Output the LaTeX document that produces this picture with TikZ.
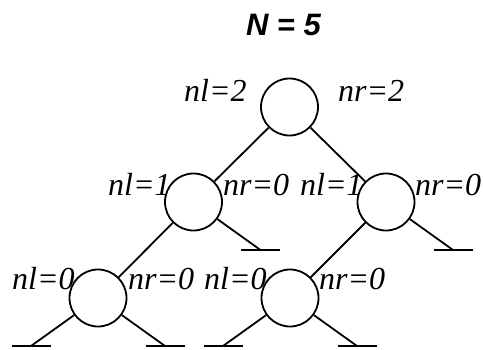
\documentclass[tikz,border=0pt]{standalone}
\usepackage{fontspec}
\setmainfont{Liberation Serif}
\newfontfamily\titlefont{Liberation Sans}
\newfontfamily\lblfont{Liberation Serif}
\begin{document}
\begin{tikzpicture}[x=1pt,y=-1pt,
  nd/.style={circle,draw,line width=1.8pt,minimum size=57pt,inner sep=0pt},
  lbl/.style={anchor=base west,inner sep=0pt,font=\lblfont\itshape\fontsize{32}{32}\selectfont},
  edge/.style={line width=1.8pt},
  bar/.style={line width=1.8pt}]
\useasboundingbox (0,0) rectangle (483,349);
\node[anchor=base,inner sep=0pt,font=\titlefont\bfseries\itshape\fontsize{31}{31}\selectfont] (title) at (283.5,35) {N = 5};
% nodes
\node[nd] (r) at (289.5,107) {};
\node[nd] (a) at (193.5,202) {};
\node[nd] (b) at (386,202) {};
\node[nd] (c) at (98,298) {};
\node[nd] (d) at (290,298) {};
% edges
\draw[edge] (r) -- (a);
\draw[edge] (r) -- (b);
\draw[edge] (a) -- (c);
\draw[edge] (b) -- (d);
% null pointers
\coordinate (a0) at (260.5,250);
\coordinate (b0) at (453,250);
\coordinate (c1) at (31,346);
\coordinate (c2) at (165,346);
\coordinate (d1) at (223,346);
\coordinate (d2) at (357,346);
\draw[edge] (a) -- (a0);
\draw[edge] (b) -- (b0);
\draw[edge] (c) -- (c1);
\draw[edge] (c) -- (c2);
\draw[edge] (d) -- (d1);
\draw[edge] (d) -- (d2);
\draw[bar] ([xshift=-19.5pt]a0) -- ([xshift=19.5pt]a0);
\draw[bar] ([xshift=-19.5pt]b0) -- ([xshift=19.5pt]b0);
\draw[bar] ([xshift=-19.5pt]c1) -- ([xshift=19.5pt]c1);
\draw[bar] ([xshift=-19.5pt]c2) -- ([xshift=19.5pt]c2);
\draw[bar] ([xshift=-19.5pt]d1) -- ([xshift=19.5pt]d1);
\draw[bar] ([xshift=-19.5pt]d2) -- ([xshift=19.5pt]d2);
% labels
\node[lbl] (rl) at (184,101) {nl=2};
\node[lbl] (rr) at (338,101) {nr=2};
\node[lbl] (al) at (108,195) {nl=1};
\node[lbl] (ar) at (223,195) {nr=0};
\node[lbl] (bl) at (300,195) {nl=1};
\node[lbl] (br) at (415,195) {nr=0};
\node[lbl] (cl) at (12,289) {nl=0};
\node[lbl] (cr) at (128,289) {nr=0};
\node[lbl] (dl) at (204,289) {nl=0};
\node[lbl] (dr) at (319,289) {nr=0};
\end{tikzpicture}
\end{document}
